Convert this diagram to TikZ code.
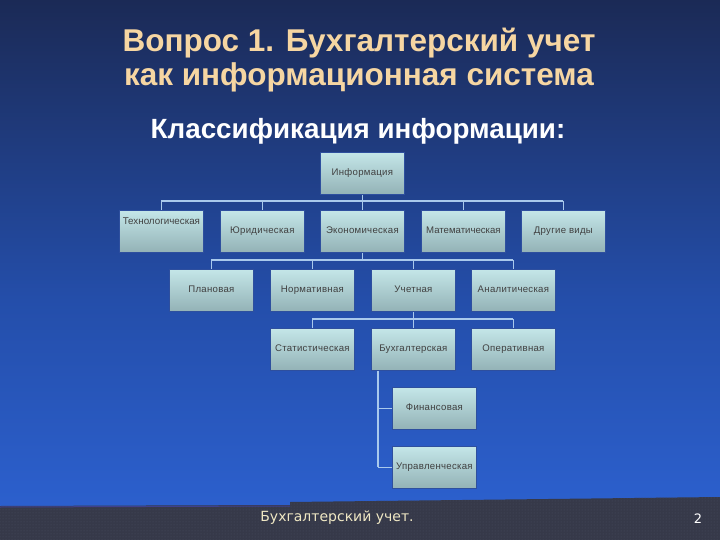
\documentclass[tikz,border=0pt]{standalone}
\usepackage{fontspec}
\usetikzlibrary{patterns}
\setmainfont{Liberation Sans}
\newfontfamily\footfont{DejaVu Sans}
\newfontfamily\boxfont[LetterSpace=3]{Liberation Sans}
\begin{document}
\begin{tikzpicture}[x=1pt,y=-1pt,
  infobox/.style={draw=boxedge, line width=0.8pt, top color=boxtop, bottom color=boxbot,
    minimum width=84pt, minimum height=42pt, inner sep=0pt, font=\boxfont\fontsize{9.6}{10}\selectfont,
    text height=7pt, text depth=2pt, text=black!75, anchor=north west},
  link/.style={draw=linkc, line width=1.8pt}]
\definecolor{boxtop}{HTML}{C4E6E8}
\definecolor{boxbot}{HTML}{93B2B6}
\definecolor{boxedge}{HTML}{2E4F9E}
\definecolor{linkc}{HTML}{A9C9EC}
\definecolor{titlec}{HTML}{F6D6A2}
\definecolor{footc}{HTML}{363949}
\definecolor{footdot}{HTML}{4B4F62}
\useasboundingbox (0,0) rectangle (720,540);
% background
\shade[top color={rgb,255:red,27;green,42;blue,86}, bottom color={rgb,255:red,36;green,78;blue,170}] (0,0) rectangle (720,300);
\shade[top color={rgb,255:red,36;green,78;blue,170}, bottom color={rgb,255:red,44;green,96;blue,206}] (0,300) rectangle (720,510);
\fill[footc] (0,506) -- (290,505) -- (290,502) -- (720,497) -- (720,540) -- (0,540) -- cycle;
\fill[pattern=dots, pattern color=footdot] (0,506) -- (290,505) -- (290,502) -- (720,497) -- (720,540) -- (0,540) -- cycle;
\draw[black!40!blue!50!gray, line width=1pt] (0,507) -- (290,506);
% titles
\node[text=titlec, font=\fontsize{31.5}{33}\selectfont\bfseries] (t1) at (359,43) {Вопрос 1. Бухгалтерский учет};
\node[text=titlec, font=\fontsize{31.5}{33}\selectfont\bfseries] (t2) at (359,77) {как информационная система};
\node[text=white, font=\fontsize{27.8}{29}\selectfont\bfseries] (t3) at (358,131) {Классификация информации:};
% boxes
\node[infobox] (inf) at (320,152) {Информация};
\node[infobox, font=\fontsize{9.8}{10}\selectfont, text depth=20pt] (tech) at (119,210) {Технологическая};
\node[infobox] (jur) at (220,210) {Юридическая};
\node[infobox] (eco) at (320,210) {Экономическая};
\node[infobox, font=\fontsize{9.6}{10}\selectfont] (mat) at (421,210) {Математическая};
\node[infobox] (oth) at (521,210) {Другие виды};
\node[infobox] (plan) at (169,269) {Плановая};
\node[infobox] (norm) at (270,269) {Нормативная};
\node[infobox] (uch) at (371,269) {Учетная};
\node[infobox] (anal) at (471,269) {Аналитическая};
\node[infobox] (stat) at (270,328) {Статистическая};
\node[infobox] (buh) at (371,328) {Бухгалтерская};
\node[infobox] (oper) at (471,328) {Оперативная};
\node[infobox] (fin) at (392,387) {Финансовая};
\node[infobox, text width=84pt, align=center] (upr) at (392,446) {Управленческая};
% connectors
\coordinate (b1) at (0,201);
\draw[link] (inf.south) -- (inf.south |- b1);
\draw[link] (tech.north |- b1) -- (oth.north |- b1);
\foreach \n in {tech,jur,eco,mat,oth} \draw[link] (\n.north |- b1) -- (\n.north);
\coordinate (b2) at (0,260);
\draw[link] (eco.south) -- (eco.south |- b2);
\draw[link] (plan.north |- b2) -- (anal.north |- b2);
\foreach \n in {plan,norm,uch,anal} \draw[link] (\n.north |- b2) -- (\n.north);
\coordinate (b3) at (0,319);
\draw[link] (uch.south) -- (uch.south |- b3);
\draw[link] (stat.north |- b3) -- (oper.north |- b3);
\foreach \n in {stat,buh,oper} \draw[link] (\n.north |- b3) -- (\n.north);
\coordinate (v) at (378,0);
\draw[link] (v |- buh.south) -- (v |- upr.west);
\draw[link] (v |- fin.west) -- (fin.west);
\draw[link] (v |- upr.west) -- (upr.west);
% footer
\node[text={rgb,255:red,240;green,232;blue,196}, font=\footfont\fontsize{14}{16}\selectfont] (ft) at (337,518) {Бухгалтерский учет.};
\node[text=white, font=\footfont\fontsize{13}{15}\selectfont] (pg) at (698,519) {2};
\end{tikzpicture}
\end{document}
